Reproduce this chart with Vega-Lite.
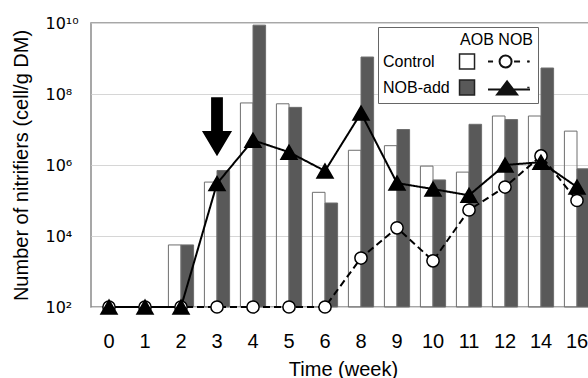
{
  "$schema": "https://vega.github.io/schema/vega-lite/v6.json",
  "width": 499,
  "height": 284,
  "autosize": {"type": "none"},
  "padding": {"left": 91, "top": 23, "right": 0, "bottom": 71},
  "background": "white",
  "config": {"font": "Liberation Sans", "view": {"stroke": "#8a8a8a", "strokeWidth": 1.5}},
  "datasets": {
    "aob": [
      {"week": 2, "treatment": "Control", "value": 5600}, {"week": 2, "treatment": "NOB-add", "value": 5600},
      {"week": 3, "treatment": "Control", "value": 330000}, {"week": 3, "treatment": "NOB-add", "value": 700000},
      {"week": 4, "treatment": "Control", "value": 56000000}, {"week": 4, "treatment": "NOB-add", "value": 8700000000},
      {"week": 5, "treatment": "Control", "value": 53000000}, {"week": 5, "treatment": "NOB-add", "value": 42000000},
      {"week": 6, "treatment": "Control", "value": 170000}, {"week": 6, "treatment": "NOB-add", "value": 85000},
      {"week": 8, "treatment": "Control", "value": 2600000}, {"week": 8, "treatment": "NOB-add", "value": 1100000000},
      {"week": 9, "treatment": "Control", "value": 3500000}, {"week": 9, "treatment": "NOB-add", "value": 10000000},
      {"week": 10, "treatment": "Control", "value": 930000}, {"week": 10, "treatment": "NOB-add", "value": 380000},
      {"week": 11, "treatment": "Control", "value": 630000}, {"week": 11, "treatment": "NOB-add", "value": 14000000},
      {"week": 12, "treatment": "Control", "value": 24000000}, {"week": 12, "treatment": "NOB-add", "value": 19000000},
      {"week": 14, "treatment": "Control", "value": 24000000}, {"week": 14, "treatment": "NOB-add", "value": 540000000},
      {"week": 16, "treatment": "Control", "value": 9000000}, {"week": 16, "treatment": "NOB-add", "value": 780000}
    ],
    "nob": [
      {"week": 0, "series": "Control", "value": 100}, {"week": 1, "series": "Control", "value": 100},
      {"week": 2, "series": "Control", "value": 100}, {"week": 3, "series": "Control", "value": 100},
      {"week": 4, "series": "Control", "value": 100}, {"week": 5, "series": "Control", "value": 100},
      {"week": 6, "series": "Control", "value": 100}, {"week": 8, "series": "Control", "value": 2400},
      {"week": 9, "series": "Control", "value": 17000}, {"week": 10, "series": "Control", "value": 2000},
      {"week": 11, "series": "Control", "value": 54000}, {"week": 12, "series": "Control", "value": 240000},
      {"week": 14, "series": "Control", "value": 1800000}, {"week": 16, "series": "Control", "value": 100000},
      {"week": 0, "series": "NOB-add", "value": 100}, {"week": 1, "series": "NOB-add", "value": 100},
      {"week": 2, "series": "NOB-add", "value": 100}, {"week": 3, "series": "NOB-add", "value": 300000},
      {"week": 4, "series": "NOB-add", "value": 5000000}, {"week": 5, "series": "NOB-add", "value": 2300000},
      {"week": 6, "series": "NOB-add", "value": 680000}, {"week": 8, "series": "NOB-add", "value": 29000000},
      {"week": 9, "series": "NOB-add", "value": 310000}, {"week": 10, "series": "NOB-add", "value": 210000},
      {"week": 11, "series": "NOB-add", "value": 140000}, {"week": 12, "series": "NOB-add", "value": 1000000},
      {"week": 14, "series": "NOB-add", "value": 1200000}, {"week": 16, "series": "NOB-add", "value": 240000}
    ],
    "note": [{"week": 3, "value": 12000000}]
  },
  "encoding": {
    "x": {
      "field": "week", "type": "ordinal",
      "scale": {"domain": [0, 1, 2, 3, 4, 5, 6, 8, 9, 10, 11, 12, 14, 16], "range": [0, 504], "paddingInner": 0.3, "paddingOuter": 0.15},
      "axis": {"title": "Time (week)", "labelAngle": 0, "labelFontSize": 20, "labelColor": "black", "labelPadding": 24, "ticks": false, "tickSize": 0, "domain": false, "titleFontSize": 20, "titleFontWeight": "normal", "titleColor": "black", "titlePadding": 8}
    },
    "y": {
      "field": "value", "type": "quantitative",
      "scale": {"type": "log", "domain": [100, 10000000000], "nice": false},
      "axis": {"title": "Number of nitrifiers (cell/g DM)", "values": [100, 10000, 1000000, 100000000, 10000000000],
        "labelExpr": "'10' + (datum.value < 1e3 ? '²' : datum.value < 1e5 ? '⁴' : datum.value < 1e7 ? '⁶' : datum.value < 1e9 ? '⁸' : '¹⁰')",
        "labelFont": "DejaVu Sans", "labelFontSize": 16, "labelColor": "black", "labelAlign": "left", "labelPadding": 46,
        "ticks": false, "tickSize": 0, "domain": false,
        "gridColor": "#d6d6d6", "titleFontSize": 20, "titleFontWeight": "normal", "titleColor": "black", "titlePadding": 14}
    }
  },
  "layer": [
    {
      "data": {"name": "aob"},
      "mark": {"type": "bar", "stroke": "#6e6e6e", "strokeWidth": 1},
      "encoding": {
        "y2": {"datum": 100},
        "xOffset": {"field": "treatment", "type": "nominal", "scale": {"paddingInner": 0, "paddingOuter": 0}},
        "fill": {"field": "treatment", "type": "nominal", "scale": {"domain": ["Control", "NOB-add"], "range": ["rgba(255,255,255,0)", "#595959"]},
          "legend": {"title": "AOB NOB", "titleAnchor": "end", "orient": "none", "legendX": 287, "legendY": 4, "padding": 5,
            "strokeColor": "#666", "fillColor": "white",
            "symbolType": "M9.07,-1H11.07V1H9.07ZM18.1,0H18.4", "symbolSize": 225, "symbolStrokeWidth": 1.5, "symbolStrokeColor": "#222",
            "labelOffset": -17, "labelFontSize": 16, "labelColor": "black", "titleFontSize": 16, "titleFontWeight": "normal",
            "titleColor": "black", "titlePadding": 5, "rowPadding": 5}
        }
      }
    },
    {
      "data": {"name": "aob"},
      "transform": [{"filter": "datum.value < 0"}],
      "mark": {"type": "point", "filled": true, "stroke": "#111", "strokeWidth": 2, "opacity": 1},
      "encoding": {
        "fill": {"field": "treatment", "type": "nominal", "scale": {"domain": ["Control", "NOB-add"], "range": ["rgba(255,255,255,0)", "#595959"]},
          "legend": {"title": "AOB NOB", "titleAnchor": "end", "orient": "none", "legendX": 287, "legendY": 4, "padding": 5,
            "strokeColor": "#666", "fillColor": "white",
            "symbolType": "M9.07,-1H11.07V1H9.07ZM18.1,0H18.4", "symbolSize": 225, "symbolStrokeWidth": 1.5, "symbolStrokeColor": "#222",
            "labelOffset": -17, "labelFontSize": 16, "labelColor": "black", "titleFontSize": 16, "titleFontWeight": "normal",
            "titleColor": "black", "titlePadding": 5, "rowPadding": 5}},
        "shape": {"field": "treatment", "type": "nominal",
          "scale": {"domain": ["Control", "NOB-add"], "range": [
            "M12.87,0H13.54M16.34,0H17.14M18.1,0H18.4M14.41,0A0.8,0.8,0,1,0,16.01,0A0.8,0.8,0,1,0,14.41,0Z",
            "M12.87,0H18.47M14.08,0.67L15.41,-1.07L16.74,0.67ZM14.41,0.505L15.41,-0.8L16.41,0.505ZM14.74,0.34L15.41,-0.53L16.08,0.34ZM15.08,0.175L15.41,-0.26L15.74,0.175ZM15.34,0.04L15.41,-0.04L15.48,0.04Z"]},
          "legend": {"title": " ", "titleAnchor": "end", "orient": "none", "legendX": 287, "legendY": 4, "padding": 5,
            "symbolSize": 225, "symbolStrokeWidth": 2, "symbolStrokeColor": "#111", "symbolFillColor": "white",
            "labelExpr": "' '", "labelOffset": 120, "labelFontSize": 16, "titleFontSize": 16, "titleFontWeight": "normal",
            "titlePadding": 5, "rowPadding": 5}}
      }
    },
    {
      "data": {"name": "nob"},
      "mark": {"type": "line", "color": "black", "strokeWidth": 2},
      "encoding": {
        "strokeDash": {"field": "series", "type": "nominal", "scale": {"range": [[7, 4], [1, 0]]}, "legend": null}
      }
    },
    {
      "data": {"name": "nob"},
      "mark": {"type": "point", "filled": true, "stroke": "black", "strokeWidth": 1.5, "opacity": 1},
      "encoding": {
        "shape": {"field": "series", "type": "nominal", "scale": {"range": ["circle", "triangle-up"]}, "legend": null},
        "color": {"field": "series", "type": "nominal", "scale": {"range": ["white", "black"]}, "legend": null},
        "size": {"field": "series", "type": "nominal", "scale": {"range": [150, 260]}, "legend": null}
      }
    },
    {
      "data": {"name": "note"},
      "mark": {"type": "point", "shape": "M-0.2,-1H0.2V0.15H0.51L0,1L-0.51,0.15H-0.2Z", "size": 3481, "filled": true, "fill": "black", "opacity": 1, "strokeWidth": 0}
    }
  ],
  "resolve": {"scale": {"shape": "independent"}}
}
